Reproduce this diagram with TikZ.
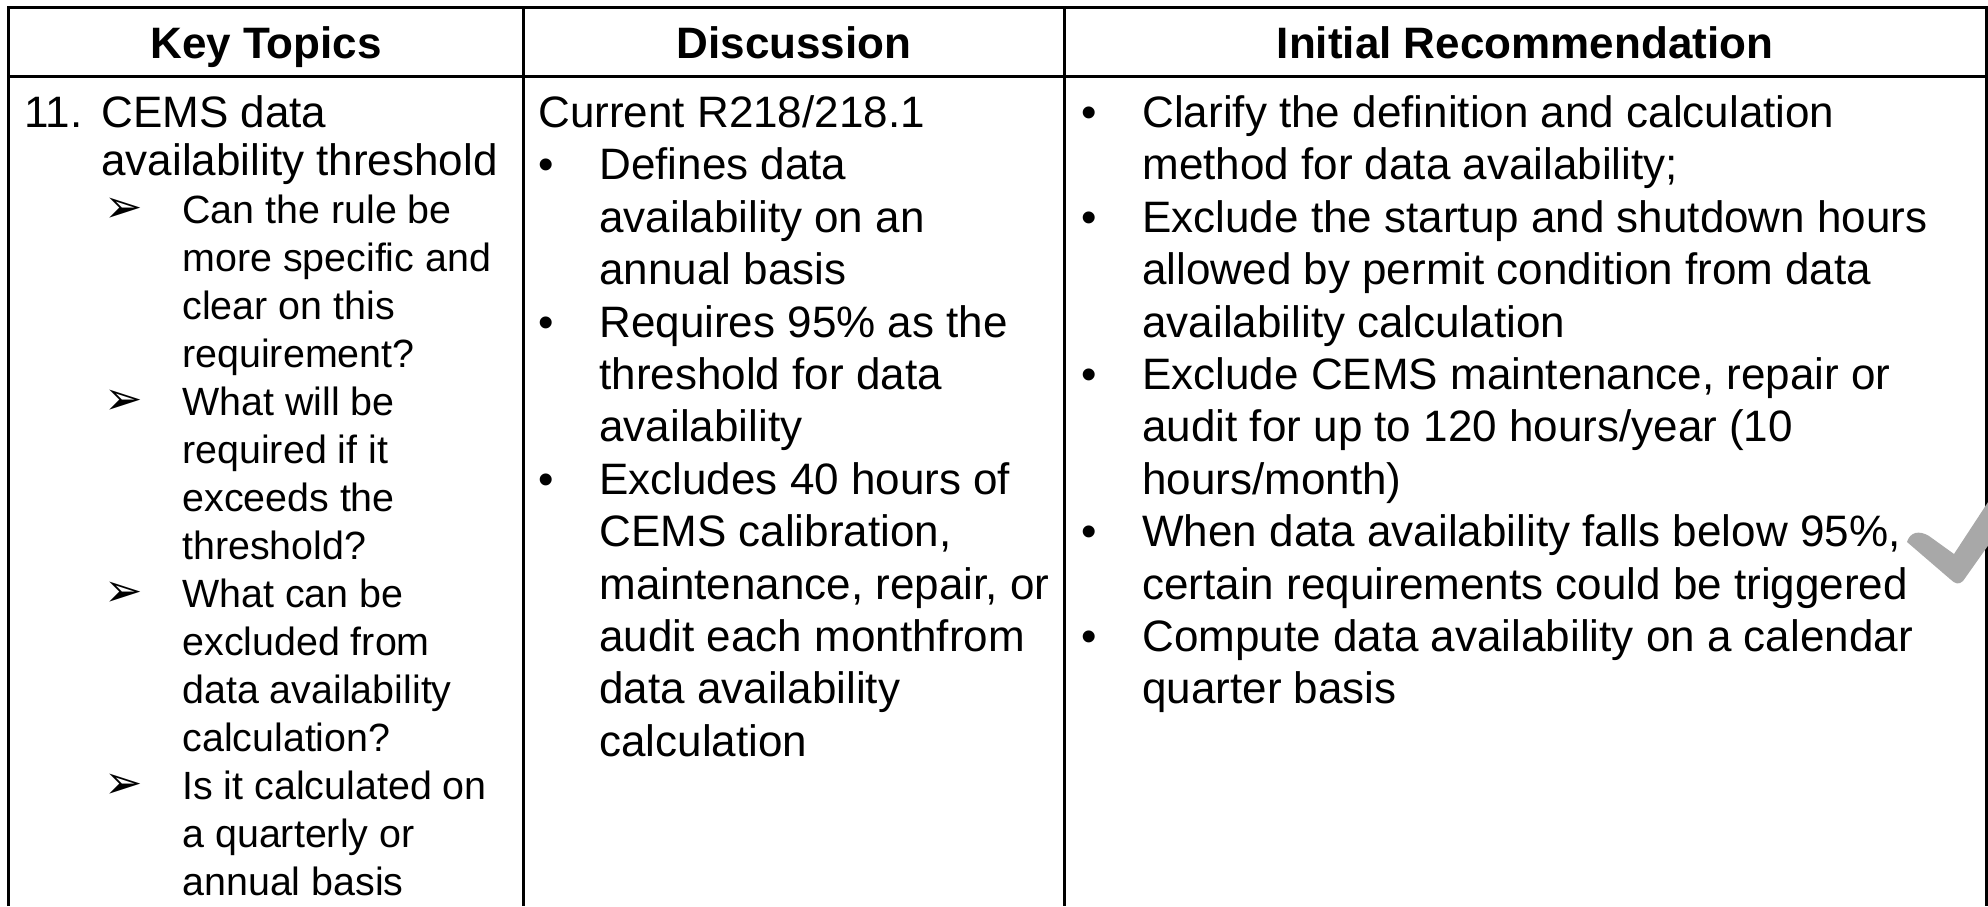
\documentclass[tikz,border=0pt]{standalone}
\usepackage{fontspec}
\setmainfont{Liberation Sans}
\newfontfamily\dingfont{DejaVu Sans}
\definecolor{tickgray}{RGB}{168,168,168}
\newcommand{\bul}{\makebox[30.5pt][l]{•}}
\newcommand{\ind}{\hspace*{30.5pt}}
\newcommand{\num}[1]{\makebox[38.5pt][l]{#1}}
\newcommand{\topind}{\hspace*{38.5pt}}
\newcommand{\subsize}{\fontsize{19.7pt}{24pt}\selectfont}
\newcommand{\arr}{\hspace*{40pt}\makebox[39pt][l]{\raisebox{0.5pt}{\fontsize{23pt}{23pt}\selectfont\dingfont ➢}}\subsize}
\newcommand{\subind}{\hspace*{79pt}\subsize}
\newcommand{\firstline}{\rule{0pt}{17pt}}
\begin{document}
\begin{tikzpicture}[x=0.5pt, y=-0.5pt,
  head/.style = {font=\bfseries\fontsize{22pt}{26pt}\selectfont, inner sep=0pt, anchor=base},
  cell/.style = {align=left, inner sep=0pt, anchor=north west},
  rule/.style = {line width=1.5pt}]
\useasboundingbox (0,0) rectangle (1988,906);

\node[head] (h1) at (266,58)  {Key Topics};
\node[head] (h2) at (794,58)  {Discussion};
\node[head] (h3) at (1525,58) {Initial Recommendation};

% first baselines sit at y=127
\node[cell, font=\fontsize{22pt}{24pt}\selectfont] (c1) at (24,93) {%
\firstline\num{11.}CEMS data\\
\topind availability threshold\\
\arr Can the rule be\\
\subind more specific and\\
\subind clear on this\\
\subind requirement?\\
\arr What will be\\
\subind required if it\\
\subind exceeds the\\
\subind threshold?\\
\arr What can be\\
\subind excluded from\\
\subind data availability\\
\subind calculation?\\
\arr Is it calculated on\\
\subind a quarterly or\\
\subind annual basis};

\node[cell, font=\fontsize{22pt}{26.2pt}\selectfont] (c2) at (538,93) {%
\firstline Current R218/218.1\\
\bul Defines data\\
\ind availability on an\\
\ind annual basis\\
\bul Requires 95\% as the\\
\ind threshold for data\\
\ind availability\\
\bul Excludes 40 hours of\\
\ind CEMS calibration,\\
\ind maintenance, repair, or\\
\ind audit each monthfrom\\
\ind data availability\\
\ind calculation};

\node[cell, font=\fontsize{22pt}{26.2pt}\selectfont] (c3) at (1081,93) {%
\firstline\bul Clarify the definition and calculation\\
\ind method for data availability;\\
\bul Exclude the startup and shutdown hours\\
\ind allowed by permit condition from data\\
\ind availability calculation\\
\bul Exclude CEMS maintenance, repair or\\
\ind audit for up to 120 hours/year (10\\
\ind hours/month)\\
\bul When data availability falls below 95\%,\\
\ind certain requirements could be triggered\\
\bul Compute data availability on a calendar\\
\ind quarter basis};

% table rules
\draw[rule] (8,906) |- (1986,7) -- (1986,906);
\draw[rule] (8,76) -- (1986,76);
\draw[rule] (523,7) -- (523,906);
\draw[rule] (1064,7) -- (1064,906);

% tick
\fill[tickgray] (1907,542) .. controls (1910,532) and (1919,530) .. (1929,536)
  -- (1954,554) -- (1992,496) -- (1992,540) -- (1963,581)
  .. controls (1959,585) and (1955,584) .. (1950,579) -- cycle;
\end{tikzpicture}
\end{document}
